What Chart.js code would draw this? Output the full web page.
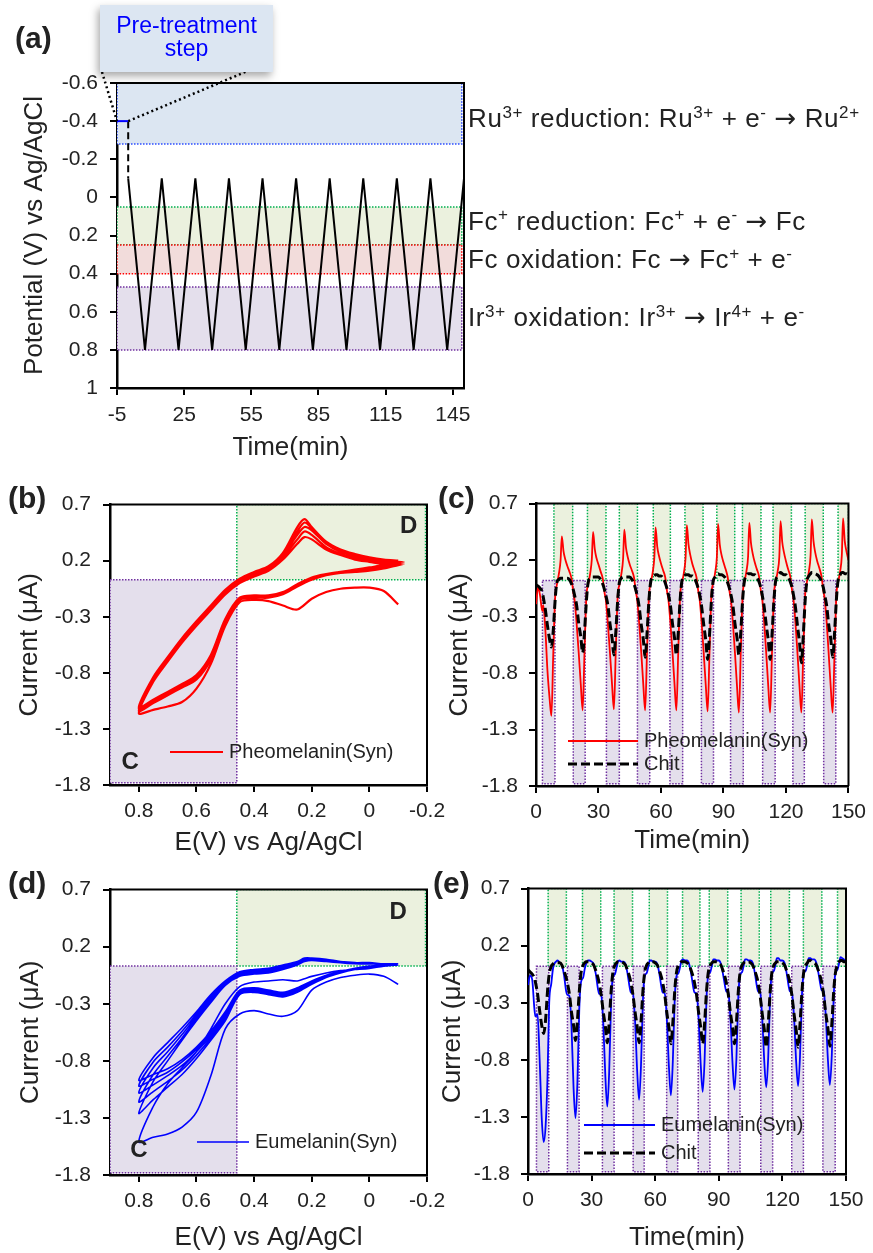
<!DOCTYPE html>
<html>
<head>
<meta charset="utf-8">
<title>Redox cycling of synthetic melanins</title>
<script src="https://cdn.jsdelivr.net/npm/chart.js@4.4.1/dist/chart.umd.min.js"></script>
<style>
  html, body { margin: 0; padding: 0; background: #fff; }
  #page { position: relative; width: 873px; height: 1253px; overflow: hidden; }
  #page canvas { position: absolute; }
</style>
</head>
<body>
<div id="page">
  <canvas id="chartA" width="873" height="470" style="left:0;top:0"></canvas>
  <canvas id="chartB" width="460" height="385" style="left:0;top:480px"></canvas>
  <canvas id="chartC" width="443" height="385" style="left:430px;top:480px"></canvas>
  <canvas id="chartD" width="460" height="388" style="left:0;top:865px"></canvas>
  <canvas id="chartE" width="443" height="388" style="left:430px;top:865px"></canvas>
</div>
<script>
const FONT = "'Liberation Sans', Arial, sans-serif";
Chart.defaults.font.family = FONT;
Chart.defaults.color = '#222';

// ---------- (a) applied potential programme ----------
const pretreatTime = [-5, 0];
const pretreatPotential = [-0.4, -0.4];
const stepTime = [0, 0];
const stepPotential = [-0.4, -0.1];
const waveTime = [0, 7.5, 15, 22.5, 30, 37.5, 45, 52.5, 60, 67.5, 75, 82.5, 90, 97.5, 105, 112.5, 120, 127.5, 135, 142.5, 150];
const wavePotential = [-0.1, 0.8, -0.1, 0.8, -0.1, 0.8, -0.1, 0.8, -0.1, 0.8, -0.1, 0.8, -0.1, 0.8, -0.1, 0.8, -0.1, 0.8, -0.1, 0.8, -0.1];
const timeTicksA = [-5, 25, 55, 85, 115, 145];
const potentialTicks = [-0.6, -0.4, -0.2, 0, 0.2, 0.4, 0.6, 0.8, 1];

// potential windows (V) of the mediators
const windowRu = [-0.6, -0.28];
const windowFcRed = [0.05, 0.25];
const windowFcOx = [0.25, 0.4];
const windowIr = [0.47, 0.8];
const reactionText = [
  'Ru^{3+} reduction: Ru^{3+} + e^{-} \u2192 Ru^{2+}',
  'Fc^{+} reduction: Fc^{+} + e^{-} \u2192 Fc',
  'Fc oxidation: Fc \u2192 Fc^{+} + e^{-}',
  'Ir^{3+} oxidation: Ir^{3+} \u2192 Ir^{4+} + e^{-}'
];

// ---------- (b), (d) cyclic voltammograms ----------
// one sweep: -0.1 V -> 0.8 V and back
const cvSweep = [-0.1, -0.05, 0, 0.05, 0.1, 0.15, 0.2, 0.25, 0.3, 0.35, 0.4, 0.45, 0.5, 0.55, 0.6, 0.65, 0.7, 0.75, 0.8,
                 0.75, 0.7, 0.65, 0.6, 0.55, 0.5, 0.45, 0.4, 0.35, 0.3, 0.25, 0.225, 0.2, 0.15, 0.1, 0.05, 0, -0.05, -0.1];
const eTicks = [0.8, 0.6, 0.4, 0.2, 0, -0.2];
const currentTicks = [0.7, 0.2, -0.3, -0.8, -1.3, -1.8];

// pheomelanin, cycles 1, 2, 4, 7, 10 (uA)
const pheoCV = [
  [-0.19, -0.07, -0.04, -0.04, -0.05, -0.08, -0.14, -0.235, -0.2, -0.16, -0.15, -0.17, -0.38, -0.72, -0.94, -1.06, -1.1, -1.13, -1.16,
   -0.88, -0.7, -0.53, -0.38, -0.24, -0.1, 0.0, 0.06, 0.11, 0.21, 0.35, 0.41, 0.39, 0.3, 0.25, 0.21, 0.19, 0.17, 0.16],
  [0.16, 0.13, 0.11, 0.1, 0.09, 0.07, 0.03, -0.03, -0.1, -0.13, -0.13, -0.15, -0.36, -0.68, -0.86, -0.93, -1.0, -1.07, -1.14,
   -0.87, -0.69, -0.52, -0.37, -0.23, -0.09, 0.01, 0.07, 0.12, 0.23, 0.39, 0.46, 0.43, 0.32, 0.26, 0.22, 0.2, 0.18, 0.17],
  [0.17, 0.14, 0.12, 0.1, 0.09, 0.07, 0.04, -0.02, -0.09, -0.12, -0.12, -0.14, -0.34, -0.66, -0.84, -0.91, -0.98, -1.05, -1.12,
   -0.86, -0.68, -0.51, -0.36, -0.22, -0.08, 0.02, 0.08, 0.13, 0.25, 0.43, 0.5, 0.47, 0.35, 0.28, 0.24, 0.21, 0.19, 0.18],
  [0.18, 0.15, 0.13, 0.11, 0.1, 0.08, 0.05, -0.01, -0.08, -0.11, -0.11, -0.13, -0.33, -0.65, -0.83, -0.9, -0.97, -1.04, -1.12,
   -0.85, -0.67, -0.5, -0.35, -0.21, -0.07, 0.03, 0.09, 0.14, 0.26, 0.46, 0.54, 0.49, 0.37, 0.29, 0.25, 0.22, 0.2, 0.19],
  [0.19, 0.16, 0.14, 0.12, 0.1, 0.08, 0.05, -0.01, -0.08, -0.11, -0.11, -0.13, -0.32, -0.64, -0.82, -0.9, -0.97, -1.04, -1.11,
   -0.84, -0.66, -0.49, -0.34, -0.2, -0.06, 0.04, 0.1, 0.15, 0.27, 0.5, 0.57, 0.5, 0.37, 0.3, 0.26, 0.23, 0.21, 0.2]
];

// eumelanin, cycles 1, 2, 3, 5, 7, 10 (uA)
const euCV = [
  [-0.13, -0.06, -0.04, -0.05, -0.07, -0.11, -0.18, -0.36, -0.41, -0.39, -0.36, -0.39, -0.52, -0.93, -1.25, -1.38, -1.44, -1.47, -1.51,
   -1.2, -1.0, -0.86, -0.72, -0.52, -0.3, -0.15, -0.11, -0.1, -0.09, -0.1, -0.08, -0.06, -0.03, -0.01, 0.0, 0.01, 0.03, 0.04],
  [0.04, 0.03, 0.02, 0.0, -0.03, -0.07, -0.13, -0.2, -0.24, -0.22, -0.2, -0.22, -0.45, -0.62, -0.78, -0.92, -1.03, -1.14, -1.26,
   -0.98, -0.8, -0.62, -0.45, -0.29, -0.14, -0.06, -0.04, -0.03, 0.0, 0.04, 0.07, 0.08, 0.07, 0.06, 0.05, 0.05, 0.05, 0.05],
  [0.05, 0.03, 0.02, 0.0, -0.03, -0.07, -0.13, -0.19, -0.23, -0.21, -0.19, -0.21, -0.43, -0.6, -0.75, -0.88, -0.98, -1.07, -1.16,
   -0.92, -0.76, -0.6, -0.43, -0.27, -0.13, -0.05, -0.03, -0.02, 0.01, 0.05, 0.08, 0.09, 0.08, 0.06, 0.05, 0.05, 0.05, 0.05],
  [0.05, 0.04, 0.03, 0.01, -0.02, -0.06, -0.12, -0.18, -0.22, -0.2, -0.18, -0.2, -0.41, -0.58, -0.72, -0.84, -0.93, -1.01, -1.08,
   -0.86, -0.72, -0.57, -0.41, -0.26, -0.12, -0.04, -0.02, -0.01, 0.02, 0.06, 0.09, 0.09, 0.08, 0.07, 0.06, 0.05, 0.05, 0.05],
  [0.05, 0.04, 0.03, 0.01, -0.02, -0.06, -0.11, -0.17, -0.21, -0.19, -0.17, -0.19, -0.39, -0.56, -0.7, -0.81, -0.9, -0.96, -1.02,
   -0.81, -0.68, -0.54, -0.39, -0.24, -0.11, -0.03, -0.01, 0.0, 0.03, 0.06, 0.09, 0.1, 0.08, 0.07, 0.06, 0.05, 0.05, 0.05],
  [0.05, 0.04, 0.03, 0.01, -0.02, -0.05, -0.1, -0.16, -0.2, -0.18, -0.16, -0.18, -0.37, -0.54, -0.68, -0.79, -0.87, -0.92, -0.97,
   -0.77, -0.64, -0.51, -0.37, -0.22, -0.1, -0.02, 0.0, 0.01, 0.04, 0.07, 0.1, 0.1, 0.09, 0.07, 0.06, 0.06, 0.05, 0.05]
];

// oxidation (D) and reduction (C) windows on the CV plots
const regionD_E = [0.46, -0.195];
const regionD_I = [0.03, 0.7];
const regionC_E = [0.9, 0.46];
const regionC_I = [-1.78, 0.03];

// ---------- (c), (e) current vs time ----------
const sampleTime = [
  [0, 1, 2, 3, 3.5, 4.5, 5.5, 6.5, 7.4, 8.3, 9.2, 10, 11, 11.8, 12.4, 13.2, 14],
  [15, 16, 17, 18, 18.5, 19.5, 20.5, 21.5, 22.4, 23.3, 24.2, 25, 26, 26.8, 27.4, 28.2, 29],
  [30, 31, 32, 33, 33.5, 34.5, 35.5, 36.5, 37.4, 38.3, 39.2, 40, 41, 41.8, 42.4, 43.2, 44],
  [45, 46, 47, 48, 48.5, 49.5, 50.5, 51.5, 52.4, 53.3, 54.2, 55, 56, 56.8, 57.4, 58.2, 59],
  [60, 61, 62, 63, 63.5, 64.5, 65.5, 66.5, 67.4, 68.3, 69.2, 70, 71, 71.8, 72.4, 73.2, 74],
  [75, 76, 77, 78, 78.5, 79.5, 80.5, 81.5, 82.4, 83.3, 84.2, 85, 86, 86.8, 87.4, 88.2, 89],
  [90, 91, 92, 93, 93.5, 94.5, 95.5, 96.5, 97.4, 98.3, 99.2, 100, 101, 101.8, 102.4, 103.2, 104],
  [105, 106, 107, 108, 108.5, 109.5, 110.5, 111.5, 112.4, 113.3, 114.2, 115, 116, 116.8, 117.4, 118.2, 119],
  [120, 121, 122, 123, 123.5, 124.5, 125.5, 126.5, 127.4, 128.3, 129.2, 130, 131, 131.8, 132.4, 133.2, 134],
  [135, 136, 137, 138, 138.5, 139.5, 140.5, 141.5, 142.4, 143.3, 144.2, 145, 146, 146.8, 147.4, 148.2, 149],
  [150]
];
const timeTicks = [0, 30, 60, 90, 120, 150];

const pheoTrace = [
  [-0.19, -0.04, -0.12, -0.25, -0.2, -0.42, -0.78, -1.02, -1.18, -0.62, -0.13, -0.02, 0.08, 0.2, 0.41, 0.28, 0.21],
  [0.15, 0.1, 0.04, -0.1, -0.15, -0.36, -0.62, -0.9, -1.13, -0.6, -0.12, -0.02, 0.08, 0.21, 0.45, 0.3, 0.22],
  [0.16, 0.1, 0.04, -0.1, -0.15, -0.36, -0.62, -0.9, -1.12, -0.6, -0.12, -0.02, 0.08, 0.21, 0.47, 0.31, 0.23],
  [0.16, 0.11, 0.05, -0.09, -0.14, -0.35, -0.61, -0.9, -1.13, -0.6, -0.12, -0.01, 0.09, 0.22, 0.49, 0.32, 0.24],
  [0.17, 0.11, 0.05, -0.09, -0.14, -0.35, -0.61, -0.9, -1.13, -0.6, -0.11, -0.01, 0.09, 0.22, 0.51, 0.34, 0.25],
  [0.17, 0.11, 0.05, -0.09, -0.14, -0.35, -0.62, -0.91, -1.14, -0.61, -0.11, -0.01, 0.09, 0.22, 0.52, 0.34, 0.25],
  [0.18, 0.12, 0.05, -0.09, -0.14, -0.35, -0.62, -0.92, -1.15, -0.61, -0.11, 0.0, 0.1, 0.23, 0.53, 0.35, 0.26],
  [0.18, 0.12, 0.06, -0.08, -0.13, -0.34, -0.62, -0.92, -1.15, -0.61, -0.11, 0.0, 0.1, 0.23, 0.545, 0.36, 0.27],
  [0.19, 0.12, 0.06, -0.08, -0.13, -0.34, -0.62, -0.92, -1.15, -0.61, -0.11, 0.0, 0.1, 0.24, 0.56, 0.37, 0.27],
  [0.19, 0.13, 0.06, -0.08, -0.13, -0.34, -0.63, -0.93, -1.15, -0.62, -0.11, 0.0, 0.1, 0.24, 0.57, 0.37, 0.28],
  [0.2]
];
const chitTraceC = [
  [-0.02, -0.03, -0.05, -0.08, -0.13, -0.24, -0.38, -0.5, -0.57, -0.42, -0.15, 0.0, 0.03, 0.04, 0.04, 0.04, 0.04],
  [0.04, 0.03, -0.01, -0.07, -0.11, -0.2, -0.36, -0.48, -0.62, -0.43, -0.16, 0.0, 0.04, 0.05, 0.05, 0.05, 0.05],
  [0.05, 0.03, -0.01, -0.07, -0.11, -0.2, -0.36, -0.49, -0.64, -0.44, -0.16, 0.0, 0.04, 0.05, 0.05, 0.05, 0.05],
  [0.05, 0.03, -0.01, -0.07, -0.11, -0.21, -0.37, -0.5, -0.66, -0.45, -0.16, 0.0, 0.05, 0.06, 0.07, 0.07, 0.06],
  [0.06, 0.04, 0.0, -0.06, -0.1, -0.2, -0.36, -0.49, -0.64, -0.44, -0.15, 0.01, 0.05, 0.07, 0.07, 0.07, 0.06],
  [0.06, 0.04, 0.0, -0.06, -0.1, -0.21, -0.37, -0.51, -0.68, -0.46, -0.16, 0.01, 0.05, 0.07, 0.08, 0.07, 0.07],
  [0.06, 0.04, 0.0, -0.06, -0.1, -0.2, -0.36, -0.49, -0.64, -0.44, -0.15, 0.01, 0.06, 0.08, 0.08, 0.08, 0.07],
  [0.07, 0.05, 0.01, -0.05, -0.1, -0.21, -0.37, -0.51, -0.68, -0.46, -0.16, 0.01, 0.06, 0.08, 0.09, 0.08, 0.07],
  [0.07, 0.05, 0.01, -0.05, -0.1, -0.21, -0.38, -0.53, -0.71, -0.47, -0.16, 0.01, 0.06, 0.08, 0.09, 0.09, 0.08],
  [0.07, 0.05, 0.01, -0.05, -0.1, -0.2, -0.37, -0.5, -0.66, -0.45, -0.15, 0.02, 0.07, 0.09, 0.09, 0.08, 0.08],
  [0.07]
];
const euTrace = [
  [-0.145, -0.06, -0.1, -0.35, -0.42, -0.4, -0.8, -1.32, -1.52, -1.38, -0.95, -0.3, -0.13, 0.0, 0.04, 0.06, 0.07],
  [0.05, 0.03, -0.06, -0.2, -0.23, -0.24, -0.5, -1.05, -1.31, -1.0, -0.35, -0.12, -0.08, 0.0, 0.04, 0.07, 0.07],
  [0.06, 0.04, -0.05, -0.18, -0.22, -0.23, -0.48, -0.95, -1.21, -0.9, -0.3, -0.08, -0.05, 0.01, 0.06, 0.07, 0.06],
  [0.06, 0.04, -0.05, -0.17, -0.21, -0.22, -0.46, -0.9, -1.15, -0.85, -0.28, -0.07, -0.04, 0.02, 0.07, 0.07, 0.06],
  [0.06, 0.04, -0.05, -0.17, -0.21, -0.22, -0.45, -0.87, -1.11, -0.82, -0.27, -0.07, -0.04, 0.02, 0.07, 0.08, 0.07],
  [0.07, 0.04, -0.05, -0.17, -0.21, -0.22, -0.45, -0.85, -1.08, -0.8, -0.26, -0.06, -0.03, 0.03, 0.08, 0.08, 0.07],
  [0.07, 0.04, -0.05, -0.16, -0.2, -0.21, -0.44, -0.84, -1.06, -0.79, -0.25, -0.06, -0.03, 0.03, 0.08, 0.08, 0.07],
  [0.07, 0.05, -0.04, -0.16, -0.2, -0.21, -0.44, -0.83, -1.04, -0.78, -0.25, -0.05, -0.02, 0.04, 0.09, 0.09, 0.07],
  [0.07, 0.05, -0.04, -0.16, -0.2, -0.21, -0.43, -0.82, -1.03, -0.77, -0.24, -0.05, -0.02, 0.04, 0.09, 0.09, 0.08],
  [0.08, 0.05, -0.04, -0.15, -0.19, -0.2, -0.43, -0.81, -1.02, -0.76, -0.24, -0.04, -0.01, 0.05, 0.1, 0.09, 0.08],
  [0.05]
];
const chitTraceE = [
  [-0.01, -0.03, -0.05, -0.08, -0.12, -0.22, -0.37, -0.5, -0.57, -0.45, -0.2, -0.05, 0.02, 0.04, 0.05, 0.05, 0.05],
  [0.05, 0.03, -0.02, -0.08, -0.12, -0.22, -0.38, -0.5, -0.63, -0.46, -0.2, -0.04, 0.03, 0.05, 0.06, 0.06, 0.06],
  [0.05, 0.03, -0.02, -0.08, -0.12, -0.23, -0.38, -0.51, -0.65, -0.47, -0.2, -0.04, 0.03, 0.05, 0.06, 0.06, 0.06],
  [0.05, 0.03, -0.02, -0.08, -0.12, -0.23, -0.38, -0.51, -0.65, -0.47, -0.2, -0.04, 0.03, 0.05, 0.06, 0.06, 0.06],
  [0.05, 0.03, -0.02, -0.08, -0.12, -0.23, -0.39, -0.52, -0.66, -0.48, -0.2, -0.04, 0.03, 0.05, 0.06, 0.06, 0.06],
  [0.05, 0.03, -0.02, -0.08, -0.12, -0.23, -0.39, -0.52, -0.66, -0.48, -0.2, -0.04, 0.03, 0.05, 0.06, 0.06, 0.06],
  [0.05, 0.03, -0.02, -0.08, -0.12, -0.23, -0.39, -0.52, -0.66, -0.48, -0.2, -0.04, 0.03, 0.05, 0.06, 0.06, 0.06],
  [0.05, 0.03, -0.02, -0.08, -0.12, -0.24, -0.4, -0.54, -0.69, -0.49, -0.21, -0.04, 0.03, 0.05, 0.06, 0.06, 0.06],
  [0.05, 0.03, -0.02, -0.08, -0.12, -0.24, -0.4, -0.54, -0.69, -0.49, -0.21, -0.04, 0.03, 0.05, 0.07, 0.07, 0.06],
  [0.05, 0.03, -0.02, -0.08, -0.12, -0.24, -0.4, -0.53, -0.68, -0.49, -0.2, -0.04, 0.03, 0.06, 0.07, 0.07, 0.06],
  [0.06]
];

// oxidation / reduction periods (min)
const oxPeriodsC = [[8.6, 17.6], [24.7, 33.6], [40, 48.7], [56.3, 64.5], [71.5, 80.2], [86.8, 95.4], [99.1, 108], [113.8, 122.6], [129.2, 137.9], [145, 150]];
const redPeriodsC = [[3.1, 9.1], [17.9, 23.6], [33.8, 40], [48.7, 54.6], [64.3, 70.4], [79.4, 85.2], [93.4, 99.5], [108.8, 114.8], [123.3, 128.8], [138.1, 143.9]];
const oxPeriodsE = [[9.5, 18.1], [25.7, 34.3], [40.6, 49.3], [57.2, 65.8], [72.9, 81.1], [85.5, 94.2], [100.5, 109.1], [114.5, 123.3], [129.9, 138.6], [146, 150]];
const redPeriodsE = [[4, 9.8], [18.6, 24.1], [35.1, 40.6], [49.6, 54.8], [65.4, 70.6], [80.3, 85.8], [94.5, 100], [109.8, 115.4], [124.4, 129.9], [139.1, 144.9]];
const oxCurrentBand = [0.02, 0.7];
const redCurrentBand = [-1.78, 0.02];

// ---------- colours ----------
const GREEN_FILL = '#ebf1de', GREEN_EDGE = '#00b050';
const PURPLE_FILL = '#e4dfec', PURPLE_EDGE = '#7030a0';
const BLUE_FILL = '#dce6f2', BLUE_EDGE = '#2a4bff';
const PINK_FILL = '#f2dcdb', RED_EDGE = '#ff0000';

function pair(xs, ys) {
  return xs.map((x, i) => ({ x: x, y: ys[i] }));
}
function cvPoints(cycles) {
  const pts = [];
  cycles.forEach(c => c.forEach((v, i) => pts.push({ x: cvSweep[i], y: v })));
  return pts;
}

// shaded potential windows, drawn under the data
function regionPlugin(items) {
  return {
    id: 'regions',
    beforeDatasetsDraw(chart) {
      const { ctx, chartArea: a, scales: { x, y } } = chart;
      ctx.save();
      ctx.beginPath();
      ctx.rect(a.left, a.top, a.width, a.height);
      ctx.clip();
      items.forEach(r => {
        const x0 = x.getPixelForValue(r.x[0]), x1 = x.getPixelForValue(r.x[1]);
        const y0 = y.getPixelForValue(r.y[0]), y1 = y.getPixelForValue(r.y[1]);
        const left = Math.min(x0, x1), top = Math.min(y0, y1);
        const w = Math.abs(x1 - x0), h = Math.abs(y1 - y0);
        ctx.fillStyle = r.fill;
        ctx.fillRect(left, top, w, h);
        ctx.setLineDash([1.5, 1.5]);
        ctx.lineWidth = 1.5;
        ctx.strokeStyle = r.edge;
        ctx.strokeRect(left, top, w, h);
      });
      ctx.restore();
    }
  };
}

// closes the plot box on the top and right
const framePlugin = {
  id: 'frame',
  afterDatasetsDraw(chart) {
    const { ctx, chartArea: a } = chart;
    ctx.save();
    ctx.strokeStyle = '#000';
    ctx.lineWidth = 2;
    ctx.beginPath();
    ctx.moveTo(a.left, a.top);
    ctx.lineTo(a.right, a.top);
    ctx.lineTo(a.right, a.bottom);
    ctx.stroke();
    ctx.restore();
  }
};

// legend rows placed inside the plot
function lineKeyPlugin(items) {
  return {
    id: 'lineKey',
    afterDraw(chart) {
      const ctx = chart.ctx;
      items.forEach(k => {
        const ds = chart.data.datasets[k.dataset];
        ctx.save();
        ctx.strokeStyle = ds.borderColor;
        ctx.lineWidth = ds.borderWidth;
        ctx.setLineDash(ds.borderDash || []);
        ctx.beginPath();
        ctx.moveTo(k.x0, k.y);
        ctx.lineTo(k.x1, k.y);
        ctx.stroke();
        ctx.fillStyle = '#222';
        ctx.font = '20px ' + FONT;
        ctx.textBaseline = 'middle';
        ctx.fillText(ds.label, k.x1 + 6, k.y);
        ctx.restore();
      });
    }
  };
}

// text with ^{...} superscripts and a wide arrow glyph, y is the baseline
function drawRich(ctx, str, x, y, size) {
  let cx = x;
  ctx.letterSpacing = '0.6px';
  str.split(/(\^\{[^}]*\}|\u2192)/).forEach(p => {
    if (!p) return;
    const sup = p.startsWith('^{');
    const arrow = p === '\u2192';
    const t = sup ? p.slice(2, -1) : p;
    if (arrow) ctx.font = size + "px 'DejaVu Sans'";
    else ctx.font = (sup ? Math.round(size * 0.64) : size) + 'px ' + FONT;
    ctx.fillText(t, cx, sup ? y - size * 0.37 : y);
    cx += ctx.measureText(t).width;
  });
  ctx.letterSpacing = '0px';
}

// labels: panel letters, region letters, reaction text
function notesPlugin(items) {
  return {
    id: 'notes',
    afterDraw(chart) {
      const { ctx, scales: { x, y } } = chart;
      items.forEach(n => {
        const px = n.at ? x.getPixelForValue(n.at[0]) : n.px;
        const py = n.at ? y.getPixelForValue(n.at[1]) : (n.yValue !== undefined ? y.getPixelForValue(n.yValue) : n.py);
        ctx.save();
        ctx.fillStyle = n.color || '#222';
        if (n.rich) {
          ctx.textAlign = 'left';
          ctx.textBaseline = 'alphabetic';
          drawRich(ctx, n.text, px, py + n.size * 0.36, n.size);
        } else {
          ctx.font = n.font;
          ctx.textAlign = n.align || 'left';
          ctx.textBaseline = 'middle';
          ctx.fillText(n.text, px, py);
        }
        ctx.restore();
      });
    }
  };
}

// "Pre-treatment step" call-out with leaders to the hold at -0.4 V
function calloutPlugin(o) {
  return {
    id: 'callout',
    afterDraw(chart) {
      const { ctx, scales: { x, y } } = chart;
      ctx.save();
      ctx.setLineDash([2, 3]);
      ctx.lineWidth = 2.5;
      ctx.strokeStyle = '#000';
      o.leaders.forEach(l => {
        ctx.beginPath();
        ctx.moveTo(l.from[0], l.from[1]);
        ctx.lineTo(x.getPixelForValue(pretreatTime[l.point]), y.getPixelForValue(pretreatPotential[l.point]));
        ctx.stroke();
      });
      ctx.setLineDash([]);
      ctx.shadowColor = 'rgba(0,0,0,0.35)';
      ctx.shadowBlur = 8;
      ctx.shadowOffsetX = -2;
      ctx.shadowOffsetY = 4;
      ctx.fillStyle = BLUE_FILL;
      ctx.fillRect(o.box[0], o.box[1], o.box[2], o.box[3]);
      ctx.shadowColor = 'transparent';
      ctx.fillStyle = '#0000ff';
      ctx.font = '23px ' + FONT;
      ctx.textAlign = 'center';
      ctx.textBaseline = 'middle';
      o.lines.forEach((t, i) => ctx.fillText(t, o.box[0] + o.box[2] / 2, o.box[1] + 22 + i * 23));
      ctx.restore();
    }
  };
}

function axis(opts) {
  return {
    type: 'linear',
    min: opts.min,
    max: opts.max,
    reverse: !!opts.reverse,
    afterBuildTicks: s => { s.ticks = opts.ticks.map(v => ({ value: v })); },
    afterFit: s => { if (opts.width !== undefined) s.width = opts.width; if (opts.height !== undefined) s.height = opts.height; },
    grid: { display: true, drawOnChartArea: false, drawTicks: true, tickLength: 7, color: '#000', lineWidth: 2 },
    border: { display: true, color: '#000', width: 2.5 },
    ticks: { font: { size: 21 }, color: '#222', padding: opts.tickPad, autoSkip: false, maxRotation: 0, callback: v => String(v) },
    title: { display: true, text: opts.title, font: { size: 26 }, color: '#222', padding: opts.titlePad }
  };
}

function baseOptions(pad, xAxis, yAxis) {
  return {
    responsive: false,
    animation: false,
    events: [],
    layout: { padding: pad, autoPadding: false },
    plugins: { legend: { display: false }, tooltip: { enabled: false } },
    scales: { x: xAxis, y: yAxis }
  };
}

// ---------- (a) ----------
new Chart(document.getElementById('chartA'), {
  type: 'scatter',
  data: {
    datasets: [
      { label: 'Pre-treatment', data: pair(pretreatTime, pretreatPotential), showLine: true, borderColor: '#0000ff', borderWidth: 2, pointRadius: 0 },
      { label: 'Step', data: pair(stepTime, stepPotential), showLine: true, borderColor: '#000', borderWidth: 2, borderDash: [7, 4], pointRadius: 0 },
      { label: 'Cycling', data: pair(waveTime, wavePotential), showLine: true, borderColor: '#000', borderWidth: 2, pointRadius: 0 }
    ]
  },
  options: baseOptions(
    { top: 83, right: 409, left: 0, bottom: 0 },
    axis({ min: -5, max: 150, ticks: timeTicksA, height: 82, tickPad: 8, title: 'Time(min)', titlePad: { top: 0, bottom: 7 } }),
    axis({ min: -0.6, max: 1, reverse: true, ticks: potentialTicks, width: 117, tickPad: 12, title: 'Potential (V) vs Ag/AgCl', titlePad: { top: 19, bottom: 0 } })
  ),
  plugins: [
    regionPlugin([
      { x: [-5, 149], y: windowRu, fill: BLUE_FILL, edge: BLUE_EDGE },
      { x: [-5, 149], y: windowFcRed, fill: GREEN_FILL, edge: GREEN_EDGE },
      { x: [-5, 149], y: windowFcOx, fill: PINK_FILL, edge: RED_EDGE },
      { x: [-5, 149], y: windowIr, fill: PURPLE_FILL, edge: PURPLE_EDGE }
    ]),
    framePlugin,
    notesPlugin([
      { text: '(a)', px: 15, py: 40, font: 'bold 30px ' + FONT },
      { text: reactionText[0], px: 468, yValue: -0.416, rich: true, size: 26 },
      { text: reactionText[1], px: 468, yValue: 0.121, rich: true, size: 26 },
      { text: reactionText[2], px: 468, yValue: 0.324, rich: true, size: 26 },
      { text: reactionText[3], px: 468, yValue: 0.627, rich: true, size: 26 }
    ]),
    calloutPlugin({
      box: [100, 5, 173, 67],
      lines: ['Pre-treatment', 'step'],
      leaders: [{ from: [102, 72], point: 0 }, { from: [250, 70], point: 1 }]
    })
  ]
});

// ---------- CV panels ----------
function cvChart(id, cycles, color, width, label, lay, key, letter, cAt, dAt) {
  new Chart(document.getElementById(id), {
    type: 'scatter',
    data: {
      datasets: [
        { label: label, data: cvPoints(cycles), showLine: true, borderColor: color, borderWidth: width, pointRadius: 0, tension: 0.3 }
      ]
    },
    options: baseOptions(
      { top: lay.top, right: lay.right, left: 0, bottom: 0 },
      axis({ min: -0.2, max: 0.9, reverse: true, ticks: eTicks, height: lay.xh, tickPad: 7, title: 'E(V) vs Ag/AgCl', titlePad: { top: 0, bottom: lay.xtp } }),
      axis({ min: -1.8, max: 0.7, ticks: currentTicks, width: 110, tickPad: 12, title: 'Current (\u03bcA)', titlePad: { top: lay.ytp, bottom: 0 } })
    ),
    plugins: [
      regionPlugin([
        { x: regionD_E, y: regionD_I, fill: GREEN_FILL, edge: GREEN_EDGE },
        { x: regionC_E, y: regionC_I, fill: PURPLE_FILL, edge: PURPLE_EDGE }
      ]),
      framePlugin,
      lineKeyPlugin([key]),
      notesPlugin([
        { text: letter, px: 8, py: 20, font: 'bold 30px ' + FONT },
        { text: 'D', at: dAt, font: 'bold 24px ' + FONT, align: 'center' },
        { text: 'C', at: cAt, font: 'bold 24px ' + FONT, align: 'center' }
      ])
    ]
  });
}

cvChart('chartB', pheoCV, '#ff0000', 2.2, 'Pheomelanin(Syn)',
  { top: 20, right: 33, xh: 80, xtp: 7, ytp: 14 },
  { dataset: 0, x0: 170, x1: 223, y: 272 }, '(b)', [0.83, -1.6], [-0.136, 0.51]);
cvChart('chartD', euCV, '#0000ff', 1.6, 'Eumelanin(Syn)',
  { top: 23, right: 33, xh: 78, xtp: 0, ytp: 15 },
  { dataset: 0, x0: 197, x1: 249, y: 277 }, '(d)', [0.8, -1.58], [-0.1, 0.5]);

// ---------- time-trace panels ----------
function traceChart(id, trace, chit, color, label, oxPeriods, redPeriods, lay, keyX, keyY, letter, letterX) {
  const t = sampleTime.flat();
  const regions = [];
  oxPeriods.forEach(p => regions.push({ x: p, y: oxCurrentBand, fill: GREEN_FILL, edge: GREEN_EDGE }));
  redPeriods.forEach(p => regions.push({ x: p, y: redCurrentBand, fill: PURPLE_FILL, edge: PURPLE_EDGE }));
  new Chart(document.getElementById(id), {
    type: 'scatter',
    data: {
      datasets: [
        { label: label, data: pair(t, trace.flat()), showLine: true, borderColor: color, borderWidth: 1.8, pointRadius: 0, cubicInterpolationMode: 'monotone', order: 1 },
        { label: 'Chit', data: pair(t, chit.flat()), showLine: true, borderColor: '#000', borderWidth: 3, borderDash: [9, 4], pointRadius: 0, cubicInterpolationMode: 'monotone', order: 0 }
      ]
    },
    options: baseOptions(
      { top: lay.top, right: lay.right, left: 0, bottom: 0 },
      axis({ min: 0, max: 150, ticks: timeTicks, height: lay.xh, tickPad: 7, title: 'Time(min)', titlePad: { top: 0, bottom: lay.xtp } }),
      axis({ min: -1.8, max: 0.7, ticks: currentTicks, width: lay.yw, tickPad: 11, title: 'Current (\u03bcA)', titlePad: { top: lay.ytp, bottom: 0 } })
    ),
    plugins: [
      regionPlugin(regions),
      framePlugin,
      lineKeyPlugin([
        { dataset: 0, x0: keyX[0], x1: keyX[1], y: keyY[0] },
        { dataset: 1, x0: keyX[0], x1: keyX[1], y: keyY[1] }
      ]),
      notesPlugin([{ text: letter, px: letterX, py: 20, font: 'bold 30px ' + FONT }])
    ]
  });
}

traceChart('chartC', pheoTrace, chitTraceC, '#ff0000', 'Pheomelanin(Syn)', oxPeriodsC, redPeriodsC,
  { top: 20, right: 19, xh: 79, xtp: 9, ytp: 14, yw: 106 }, [138, 208], [261, 284], '(c)', 8);
traceChart('chartE', euTrace, chitTraceE, '#0000ff', 'Eumelanin(Syn)', oxPeriodsE, redPeriodsE,
  { top: 23, right: 27, xh: 79, xtp: 0, ytp: 7, yw: 98 }, [154, 225], [260, 288], '(e)', 3);
</script>
</body>
</html>
